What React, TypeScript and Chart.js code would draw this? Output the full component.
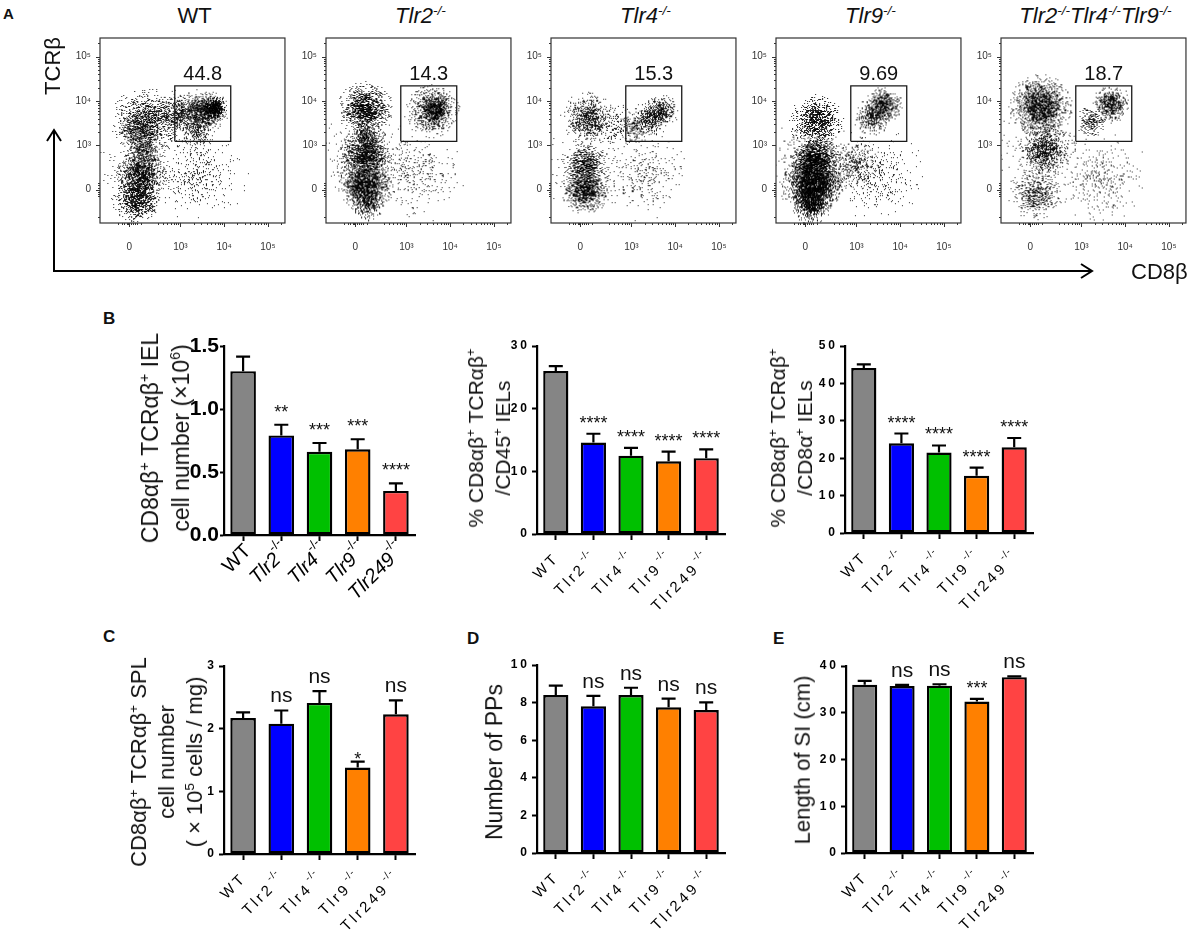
import { useEffect, useRef } from "react";
import { Chart, registerables } from "chart.js";
import type { ChartConfiguration, Plugin } from "chart.js";

Chart.register(...registerables);

const FONT = "'Liberation Sans', Arial, Helvetica, sans-serif";
Chart.defaults.font.family = FONT;
Chart.defaults.color = "#111";

// ---------- bar panels: shared groups
const groups = ["WT", "Tlr2", "Tlr4", "Tlr9", "Tlr249"];
const groupColors = ["#858585", "#0000ff", "#00c000", "#ff8000", "#ff4343"];

// B (left): CD8αβ+ TCRαβ+ IEL number (×10^6)
const ielNumber = [1.3, 0.79, 0.66, 0.68, 0.35];
const ielNumberSem = [0.115, 0.085, 0.07, 0.08, 0.06];
const ielNumberSig = ["", "**", "***", "***", "****"];

// B (middle): % of CD45+ IELs
const ielPctCd45 = [26.0, 14.6, 12.5, 11.6, 12.1];
const ielPctCd45Sem = [0.8, 1.4, 1.25, 1.55, 1.4];
const ielPctCd45Sig = ["", "****", "****", "****", "****"];

// B (right): % of CD8α+ IELs
const ielPctCd8a = [44.1, 24.0, 21.5, 15.3, 22.9];
const ielPctCd8aSem = [1.0, 2.6, 1.9, 2.2, 2.5];
const ielPctCd8aSig = ["", "****", "****", "****", "****"];

// C: SPL cell number (×10^5 cells / mg)
const splNumber = [2.17, 2.08, 2.41, 1.38, 2.23];
const splNumberSem = [0.09, 0.21, 0.19, 0.095, 0.22];
const splNumberSig = ["", "ns", "ns", "*", "ns"];

// D: number of Peyer's patches
const ppCount = [8.4, 7.8, 8.4, 7.75, 7.6];
const ppCountSem = [0.5, 0.56, 0.39, 0.46, 0.41];
const ppCountSig = ["", "ns", "ns", "ns", "ns"];

// E: length of small intestine (cm)
const siLength = [36.0, 35.7, 35.8, 32.4, 37.6];
const siLengthSem = [0.8, 0.25, 0.3, 0.55, 0.2];
const siLengthSig = ["", "ns", "ns", "***", "ns"];

// ---------- A: flow plots (axis units are display decades)
const flowGatePct = ["44.8", "14.3", "15.3", "9.69", "18.7"];
const gateX = [2.87, 4.15, 4.15, 2.87, 2.87];
const gateY = [3.09, 3.09, 4.34, 4.34, 3.09];
const flowTickX = [1.83, 3, 4, 5];
const flowTickY = [2, 3, 4, 5];
const flowTickLabels = ["0", "10³", "10⁴", "10⁵"];
const flowMinorX = [1.58, 1.66, 1.72, 1.77, 1.8, 1.87, 1.91, 1.95, 2.0, 2.1, 2.48, 2.6, 2.7, 2.78, 2.85, 2.9, 2.95,
  3.3, 3.48, 3.6, 3.7, 3.78, 3.85, 3.9, 3.95, 4.3, 4.48, 4.6, 4.7, 4.78, 4.85, 4.9, 4.95, 5.3];
const flowMinorY = [1.38, 1.85, 1.9, 1.95, 2.05, 2.1, 2.15, 3.3, 3.48, 3.6, 3.7, 3.78, 3.85, 3.9, 3.95,
  4.3, 4.48, 4.6, 4.7, 4.78, 4.85, 4.9, 4.95, 5.3];

// populations: [x, y, spread (decades), relative density]
const wtClouds = [
  [2.01, 1.79, 0.45, 0.7], [2.1, 2.34, 0.45, 0.75], [2.17, 2.89, 0.36, 0.45],
  [2.24, 3.55, 0.63, 0.45], [2.06, 3.33, 0.4, 0.35], [2.96, 3.71, 0.45, 0.4],
  [3.41, 3.77, 0.4, 0.5], [3.68, 3.77, 0.36, 0.7], [3.79, 3.84, 0.22, 1.3],
  [3.34, 3.33, 0.36, 0.3], [3.41, 2.34, 0.9, 0.08], [2.06, 2.4, 0.79, 0.07],
];
const tlr2Clouds = [
  [2.06, 3.82, 0.49, 0.8], [2.06, 2.78, 0.45, 0.9], [2.06, 2.12, 0.49, 1.0],
  [2.1, 1.69, 0.31, 0.6], [2.1, 3.22, 0.31, 0.4], [3.59, 3.77, 0.49, 0.55],
  [3.68, 3.84, 0.27, 0.8], [3.29, 2.34, 0.85, 0.07], [2.06, 2.78, 0.9, 0.08],
];
const tlr4Clouds = [
  [2.01, 3.6, 0.49, 0.5], [1.95, 2.56, 0.4, 0.55], [1.95, 2.01, 0.45, 0.8],
  [3.07, 3.4, 0.31, 0.3], [3.41, 3.6, 0.34, 0.45], [3.68, 3.77, 0.31, 0.6],
  [3.29, 2.34, 0.85, 0.06], [2.62, 3.44, 0.45, 0.1], [1.98, 2.5, 0.8, 0.06],
];
const tlr9Clouds = [
  [2.01, 2.12, 0.54, 1.4], [2.06, 2.67, 0.45, 1.1], [1.97, 1.68, 0.36, 0.9],
  [2.1, 3.55, 0.49, 0.6], [2.96, 2.61, 0.49, 0.2], [3.36, 3.62, 0.34, 0.5],
  [3.63, 3.89, 0.34, 0.75], [3.41, 2.34, 0.9, 0.07], [2.05, 2.6, 0.85, 0.1],
];
const tripleClouds = [
  [2.06, 3.88, 0.58, 0.8], [2.17, 2.89, 0.45, 0.55], [1.95, 1.9, 0.49, 0.35],
  [3.68, 3.93, 0.34, 0.75], [3.23, 3.55, 0.31, 0.35], [3.52, 2.22, 0.85, 0.07],
  [2.1, 2.8, 0.9, 0.08],
];
const flowClouds = [wtClouds, tlr2Clouds, tlr4Clouds, tlr9Clouds, tripleClouds];

// layout of the flow boxes
const flowBoxLeft = [100, 326, 551, 776, 1001];
const FLOW_W = 189;
const FLOW_TOP = 33;
const FLOW_H = 190;
const DOT_GAIN = 2.4;

// speckle texture for one population (style only)
function hash(n: number) {
  const s = Math.sin(n * 12.9898 + 78.233) * 43758.5453;
  return s - Math.floor(s);
}

function makeCloud(r: number, density: number, seed: number) {
  const R = r * 1.3;
  const size = Math.ceil(R * 2) + 2;
  const cv = document.createElement("canvas");
  cv.width = size;
  cv.height = size;
  const g = cv.getContext("2d")!;
  g.fillStyle = "rgba(0,0,0,0.85)";
  const c = size / 2;
  const sigma = r / 2.1;
  const n = Math.round(density * DOT_GAIN * 4 * R * R);
  for (let i = 0; i < n; i++) {
    const dx = (hash(seed + i * 3) * 2 - 1) * R;
    const dy = (hash(seed + i * 3 + 1) * 2 - 1) * R;
    const d2 = dx * dx + dy * dy;
    if (d2 > R * R) continue;
    if (hash(seed + i * 3 + 2) > Math.exp(-d2 / (2 * sigma * sigma))) continue;
    g.fillRect(Math.floor(c + dx), Math.floor(c + dy), 1, 1);
  }
  return cv;
}

const flowFrame: Plugin<"scatter"> = {
  id: "flowFrame",
  afterDraw(chart) {
    const { ctx, chartArea: a } = chart;
    const xs = chart.scales.x;
    const ys = chart.scales.y;
    ctx.save();
    ctx.strokeStyle = "#333";
    ctx.lineWidth = 1.2;
    ctx.strokeRect(a.left, a.top, a.width, a.height);
    ctx.lineWidth = 1;
    ctx.beginPath();
    const tickX = (v: number, len: number) => {
      const p = Math.round(xs.getPixelForValue(v)) + 0.5;
      ctx.moveTo(p, a.bottom);
      ctx.lineTo(p, a.bottom + len);
    };
    const tickY = (v: number, len: number) => {
      const p = Math.round(ys.getPixelForValue(v)) + 0.5;
      ctx.moveTo(a.left, p);
      ctx.lineTo(a.left - len, p);
    };
    flowTickX.forEach((v) => tickX(v, 4));
    flowMinorX.forEach((v) => tickX(v, 2));
    flowTickY.forEach((v) => tickY(v, 4));
    flowMinorY.forEach((v) => tickY(v, 2));
    ctx.stroke();
    ctx.restore();
  },
};

function flowConfig(panel: number): ChartConfiguration<"scatter"> {
  const clouds = flowClouds[panel];
  const cache: HTMLCanvasElement[] = [];
  const pct = flowGatePct[panel];
  const gateLabel: Plugin<"scatter"> = {
    id: "gateLabel",
    afterDraw(chart) {
      const ctx = chart.ctx;
      const xs = chart.scales.x;
      const ys = chart.scales.y;
      ctx.save();
      ctx.font = `20px ${FONT}`;
      ctx.fillStyle = "#111";
      ctx.textAlign = "center";
      ctx.textBaseline = "alphabetic";
      ctx.fillText(pct, xs.getPixelForValue((gateX[0] + gateX[1]) / 2), ys.getPixelForValue(gateY[2]) - 6);
      ctx.restore();
    },
  };
  return {
    type: "scatter",
    data: {
      datasets: [
        {
          data: gateX.map((x, i) => ({ x, y: gateY[i] })),
          showLine: true,
          borderColor: "#1a1a1a",
          borderWidth: 1.3,
          pointRadius: 0,
          order: 0,
        },
        {
          data: clouds.map((c) => ({ x: c[0], y: c[1] })),
          pointRadius: 1,
          borderWidth: 0,
          order: 1,
          pointStyle: (ctx: any) => {
            const i = ctx.dataIndex;
            if (i === undefined) return "circle";
            if (cache[i]) return cache[i];
            const c = clouds[i];
            const xs = ctx.chart.scales.x;
            const r = Math.abs(xs.getPixelForValue(c[0] + c[2]) - xs.getPixelForValue(c[0]));
            if (!isFinite(r) || r < 1) return "circle";
            cache[i] = makeCloud(r, c[3], (panel * 20 + i) * 40000);
            return cache[i];
          },
        } as any,
      ],
    },
    options: {
      responsive: true,
      maintainAspectRatio: false,
      animation: false,
      events: [],
      layout: { padding: { top: 10, right: 5, left: 0, bottom: 0 } },
      plugins: { legend: { display: false }, tooltip: { enabled: false } },
      scales: {
        x: {
          type: "linear",
          min: 1.16,
          max: 5.39,
          grid: { display: false, drawTicks: false },
          border: { display: false },
          afterBuildTicks: (s: any) => {
            s.ticks = flowTickX.map((value) => ({ value }));
          },
          afterFit: (s: any) => {
            s.height = 35;
          },
          ticks: {
            autoSkip: false,
            maxRotation: 0,
            padding: 18,
            font: { size: 10 },
            color: "#333",
            callback: (_v: any, i: number) => flowTickLabels[i],
          },
        },
        y: {
          type: "linear",
          min: 1.25,
          max: 5.42,
          grid: { display: false, drawTicks: false },
          border: { display: false },
          afterBuildTicks: (s: any) => {
            s.ticks = flowTickY.map((value) => ({ value }));
          },
          afterFit: (s: any) => {
            s.width = 40;
          },
          ticks: {
            autoSkip: false,
            padding: 9,
            font: { size: 10 },
            color: "#333",
            callback: (_v: any, i: number) => flowTickLabels[i],
          },
        },
      },
    },
    plugins: [flowFrame, gateLabel],
  };
}

// ---------- bar panels
interface BarPanel {
  values: number[];
  sem: number[];
  sig: string[];
  max: number;
  step: number;
  decimals: number;
  axisX: number;
  yTop: number;
  yBottom: number;
  xEnd: number;
  big: boolean;
  starGap: number;
}

const PAD_TOP = 40;
const PAD_RIGHT = 12;
const AXIS_W = 70;
const AXIS_H = 80;

function drawGroupLabel(ctx: any, text: string, knockout: boolean, x: number, y: number, big: boolean) {
  const size = big ? 20 : 15;
  const supSize = big ? 13 : 10;
  const mainFont = `${knockout && big ? "italic " : ""}${size}px ${FONT}`;
  const supFont = `${supSize}px ${FONT}`;
  const spacing = big ? "0px" : "3px";
  const supSpacing = big ? "0px" : "1px";
  ctx.save();
  ctx.translate(x, y);
  ctx.rotate(-Math.PI / 4);
  ctx.fillStyle = "#000";
  ctx.textBaseline = "middle";
  ctx.textAlign = "left";
  ctx.letterSpacing = spacing;
  ctx.font = mainFont;
  const wm = ctx.measureText(text).width;
  let ws = 0;
  if (knockout) {
    ctx.letterSpacing = supSpacing;
    ctx.font = supFont;
    ws = ctx.measureText("-/-").width;
  }
  const gap = knockout ? (big ? 0 : 2) : 0;
  ctx.letterSpacing = spacing;
  ctx.font = mainFont;
  ctx.fillText(text, -(wm + gap + ws), 0);
  if (knockout) {
    ctx.letterSpacing = supSpacing;
    ctx.font = supFont;
    ctx.fillText("-/-", -ws, -size * 0.48);
  }
  ctx.restore();
}

function barDecor(p: BarPanel): Plugin<"bar"> {
  return {
    id: "barDecor",
    beforeDraw(chart) {
      (chart.ctx as any).letterSpacing = p.big ? "0px" : "3px";
    },
    afterDatasetsDraw(chart) {
      const ctx = chart.ctx as any;
      ctx.letterSpacing = "0px";
      const ys = chart.scales.y;
      const meta = chart.getDatasetMeta(0);
      ctx.save();
      ctx.strokeStyle = "#000";
      ctx.lineWidth = 2.2;
      ctx.fillStyle = "#111";
      ctx.textAlign = "center";
      ctx.textBaseline = "alphabetic";
      meta.data.forEach((bar: any, i: number) => {
        const top = ys.getPixelForValue(p.values[i] + p.sem[i]);
        ctx.beginPath();
        ctx.moveTo(bar.x, bar.y);
        ctx.lineTo(bar.x, top);
        ctx.moveTo(bar.x - 7, top);
        ctx.lineTo(bar.x + 7, top);
        ctx.stroke();
        const s = p.sig[i];
        if (!s) return;
        if (s === "ns") {
          ctx.font = `21px ${FONT}`;
          ctx.fillText(s, bar.x, top - 8);
        } else {
          ctx.font = `18px ${FONT}`;
          ctx.fillText(s, bar.x, top - p.starGap);
        }
      });
      ctx.restore();
    },
    afterDraw(chart) {
      const ctx = chart.ctx as any;
      const xs = chart.scales.x;
      const base = chart.chartArea.bottom;
      groups.forEach((g, i) => {
        const x = xs.getPixelForValue(i);
        drawGroupLabel(ctx, g, i > 0, x + (p.big ? 5 : 1), base + (p.big ? 13 : 22), p.big);
      });
      ctx.letterSpacing = "0px";
    },
  };
}

function barConfig(p: BarPanel): ChartConfiguration<"bar"> {
  return {
    type: "bar",
    data: {
      labels: groups,
      datasets: [
        {
          data: p.values,
          backgroundColor: groupColors,
          borderColor: "#000",
          borderWidth: 2.4,
          borderSkipped: false,
          barPercentage: 0.67,
          categoryPercentage: 1,
        },
      ],
    },
    options: {
      responsive: true,
      maintainAspectRatio: false,
      animation: false,
      events: [],
      layout: { padding: { top: PAD_TOP, right: PAD_RIGHT, left: 0, bottom: 0 } },
      plugins: { legend: { display: false }, tooltip: { enabled: false } },
      scales: {
        x: {
          offset: true,
          grid: { display: true, drawOnChartArea: false, offset: false, tickLength: 6, tickWidth: 2, tickColor: "#000" },
          border: { display: true, color: "#000", width: 2.2 },
          ticks: { display: false },
          afterFit: (s: any) => {
            s.height = AXIS_H;
          },
        },
        y: {
          min: 0,
          max: p.max,
          grid: { display: true, drawOnChartArea: false, tickLength: p.big ? 4 : 5, tickWidth: 2, tickColor: "#000" },
          border: { display: true, color: "#000", width: 2.2 },
          ticks: {
            stepSize: p.step,
            padding: p.big ? 1 : 2,
            color: "#000",
            font: { size: p.big ? 21 : 12, weight: "bold" },
            callback: (v: any) => Number(v).toFixed(p.decimals),
          },
          afterFit: (s: any) => {
            s.width = AXIS_W;
          },
        },
      },
    },
    plugins: [barDecor(p)],
  };
}

const barPanels: BarPanel[] = [
  { values: ielNumber, sem: ielNumberSem, sig: ielNumberSig, max: 1.5, step: 0.5, decimals: 1, axisX: 224, yTop: 346, yBottom: 535, xEnd: 415, big: true, starGap: 7 },
  { values: ielPctCd45, sem: ielPctCd45Sem, sig: ielPctCd45Sig, max: 30, step: 10, decimals: 0, axisX: 537, yTop: 346, yBottom: 534, xEnd: 725, big: false, starGap: 5 },
  { values: ielPctCd8a, sem: ielPctCd8aSem, sig: ielPctCd8aSig, max: 50, step: 10, decimals: 0, axisX: 845, yTop: 346, yBottom: 533, xEnd: 1033, big: false, starGap: 5 },
  { values: splNumber, sem: splNumberSem, sig: splNumberSig, max: 3, step: 1, decimals: 0, axisX: 224, yTop: 666, yBottom: 854, xEnd: 415, big: false, starGap: -3 },
  { values: ppCount, sem: ppCountSem, sig: ppCountSig, max: 10, step: 2, decimals: 0, axisX: 537, yTop: 665, yBottom: 853, xEnd: 725, big: false, starGap: 5 },
  { values: siLength, sem: siLengthSem, sig: siLengthSig, max: 40, step: 10, decimals: 0, axisX: 846, yTop: 666, yBottom: 853, xEnd: 1033, big: false, starGap: 5 },
];

// ---------- components
function ChartBox(props: { left: number; top: number; width: number; height: number; make: () => any }) {
  const ref = useRef<HTMLCanvasElement | null>(null);
  useEffect(() => {
    if (!ref.current) return;
    const chart = new Chart(ref.current, props.make());
    return () => {
      chart.destroy();
    };
  }, []);
  return (
    <div style={{ position: "absolute", left: props.left, top: props.top, width: props.width, height: props.height }}>
      <canvas ref={ref}></canvas>
    </div>
  );
}

const supStyle = { fontSize: "0.62em", verticalAlign: "super", lineHeight: 0 } as const;

function VTitle(props: { cx: number; cy: number; size: number; lh?: number; children: any }) {
  return (
    <div
      style={{
        position: "absolute",
        left: props.cx,
        top: props.cy,
        transform: "translate(-50%, -50%) rotate(-90deg)",
        fontSize: props.size,
        lineHeight: `${props.lh ?? props.size * 1.2}px`,
        whiteSpace: "nowrap",
        textAlign: "center",
      }}
    >
      {props.children}
    </div>
  );
}

function Letter(props: { x: number; y: number; size: number; text: string }) {
  return (
    <div style={{ position: "absolute", left: props.x, top: props.y - props.size * 0.13, fontSize: props.size, fontWeight: "bold", lineHeight: 1 }}>
      {props.text}
    </div>
  );
}

const KO = (name: string) => (
  <>
    <i>{name}</i>
    <sup style={supStyle}>
      <i>-/-</i>
    </sup>
  </>
);

const flowTitles = [
  <>WT</>,
  KO("Tlr2"),
  KO("Tlr4"),
  KO("Tlr9"),
  <>
    {KO("Tlr2")}
    {KO("Tlr4")}
    {KO("Tlr9")}
  </>,
];

export default function App() {
  return (
    <div
      style={{
        position: "absolute",
        left: 0,
        top: 0,
        width: 1192,
        height: 936,
        overflow: "hidden",
        background: "#fff",
        color: "#111",
        fontFamily: FONT,
      }}
    >
      {/* A */}
      <Letter x={3} y={8} size={15} text="A" />
      {flowBoxLeft.map((left, i) => (
        <div key={"t" + i} style={{ position: "absolute", left, top: 3, width: FLOW_W, textAlign: "center", fontSize: 22, lineHeight: "25px", whiteSpace: "nowrap" }}>
          {flowTitles[i]}
        </div>
      ))}
      {flowBoxLeft.map((left, i) => (
        <ChartBox key={"f" + i} left={left - 40} top={FLOW_TOP - 10} width={FLOW_W + 45} height={FLOW_H + 45} make={() => flowConfig(i)} />
      ))}
      <svg width={1192} height={300} style={{ position: "absolute", left: 0, top: 0 }}>
        <path d="M54 271 V131 M47 141 L54 130 L61 141" stroke="#000" strokeWidth={2} fill="none" />
        <path d="M53 271 H1091 M1081 264 L1092 271 L1081 278" stroke="#000" strokeWidth={2} fill="none" />
      </svg>
      <VTitle cx={53} cy={66} size={22}>
        TCRβ
      </VTitle>
      <div style={{ position: "absolute", left: 1131, top: 261, fontSize: 22, lineHeight: 1 }}>CD8β</div>

      {/* B - E */}
      <Letter x={103} y={312} size={17} text="B" />
      <Letter x={103} y={630} size={17} text="C" />
      <Letter x={467} y={632} size={17} text="D" />
      <Letter x={773} y={632} size={17} text="E" />

      {barPanels.map((p, i) => (
        <ChartBox
          key={"b" + i}
          left={p.axisX - AXIS_W}
          top={p.yTop - PAD_TOP}
          width={AXIS_W + (p.xEnd - p.axisX) + PAD_RIGHT}
          height={PAD_TOP + (p.yBottom - p.yTop) + AXIS_H}
          make={() => barConfig(p)}
        />
      ))}

      <VTitle cx={166} cy={438} size={23} lh={31}>
        CD8αβ<sup style={supStyle}>+</sup> TCRαβ<sup style={supStyle}>+</sup> IEL
        <br />
        cell number (×10<sup style={supStyle}>6</sup>)
      </VTitle>
      <VTitle cx={489} cy={438} size={21} lh={27}>
        % CD8αβ<sup style={supStyle}>+</sup> TCRαβ<sup style={supStyle}>+</sup>
        <br />
        /CD45<sup style={supStyle}>+</sup> IELs
      </VTitle>
      <VTitle cx={791} cy={438} size={21} lh={27}>
        % CD8αβ<sup style={supStyle}>+</sup> TCRαβ<sup style={supStyle}>+</sup>
        <br />
        /CD8α<sup style={supStyle}>+</sup> IELs
      </VTitle>
      <VTitle cx={167} cy={762} size={22} lh={28}>
        CD8αβ<sup style={supStyle}>+</sup> TCRαβ<sup style={supStyle}>+</sup> SPL
        <br />
        cell number
        <br />( × 10<sup style={supStyle}>5</sup> cells / mg)
      </VTitle>
      <VTitle cx={495} cy={762} size={23}>
        Number of PPs
      </VTitle>
      <VTitle cx={803} cy={760} size={22}>
        Length of SI (cm)
      </VTitle>
    </div>
  );
}
